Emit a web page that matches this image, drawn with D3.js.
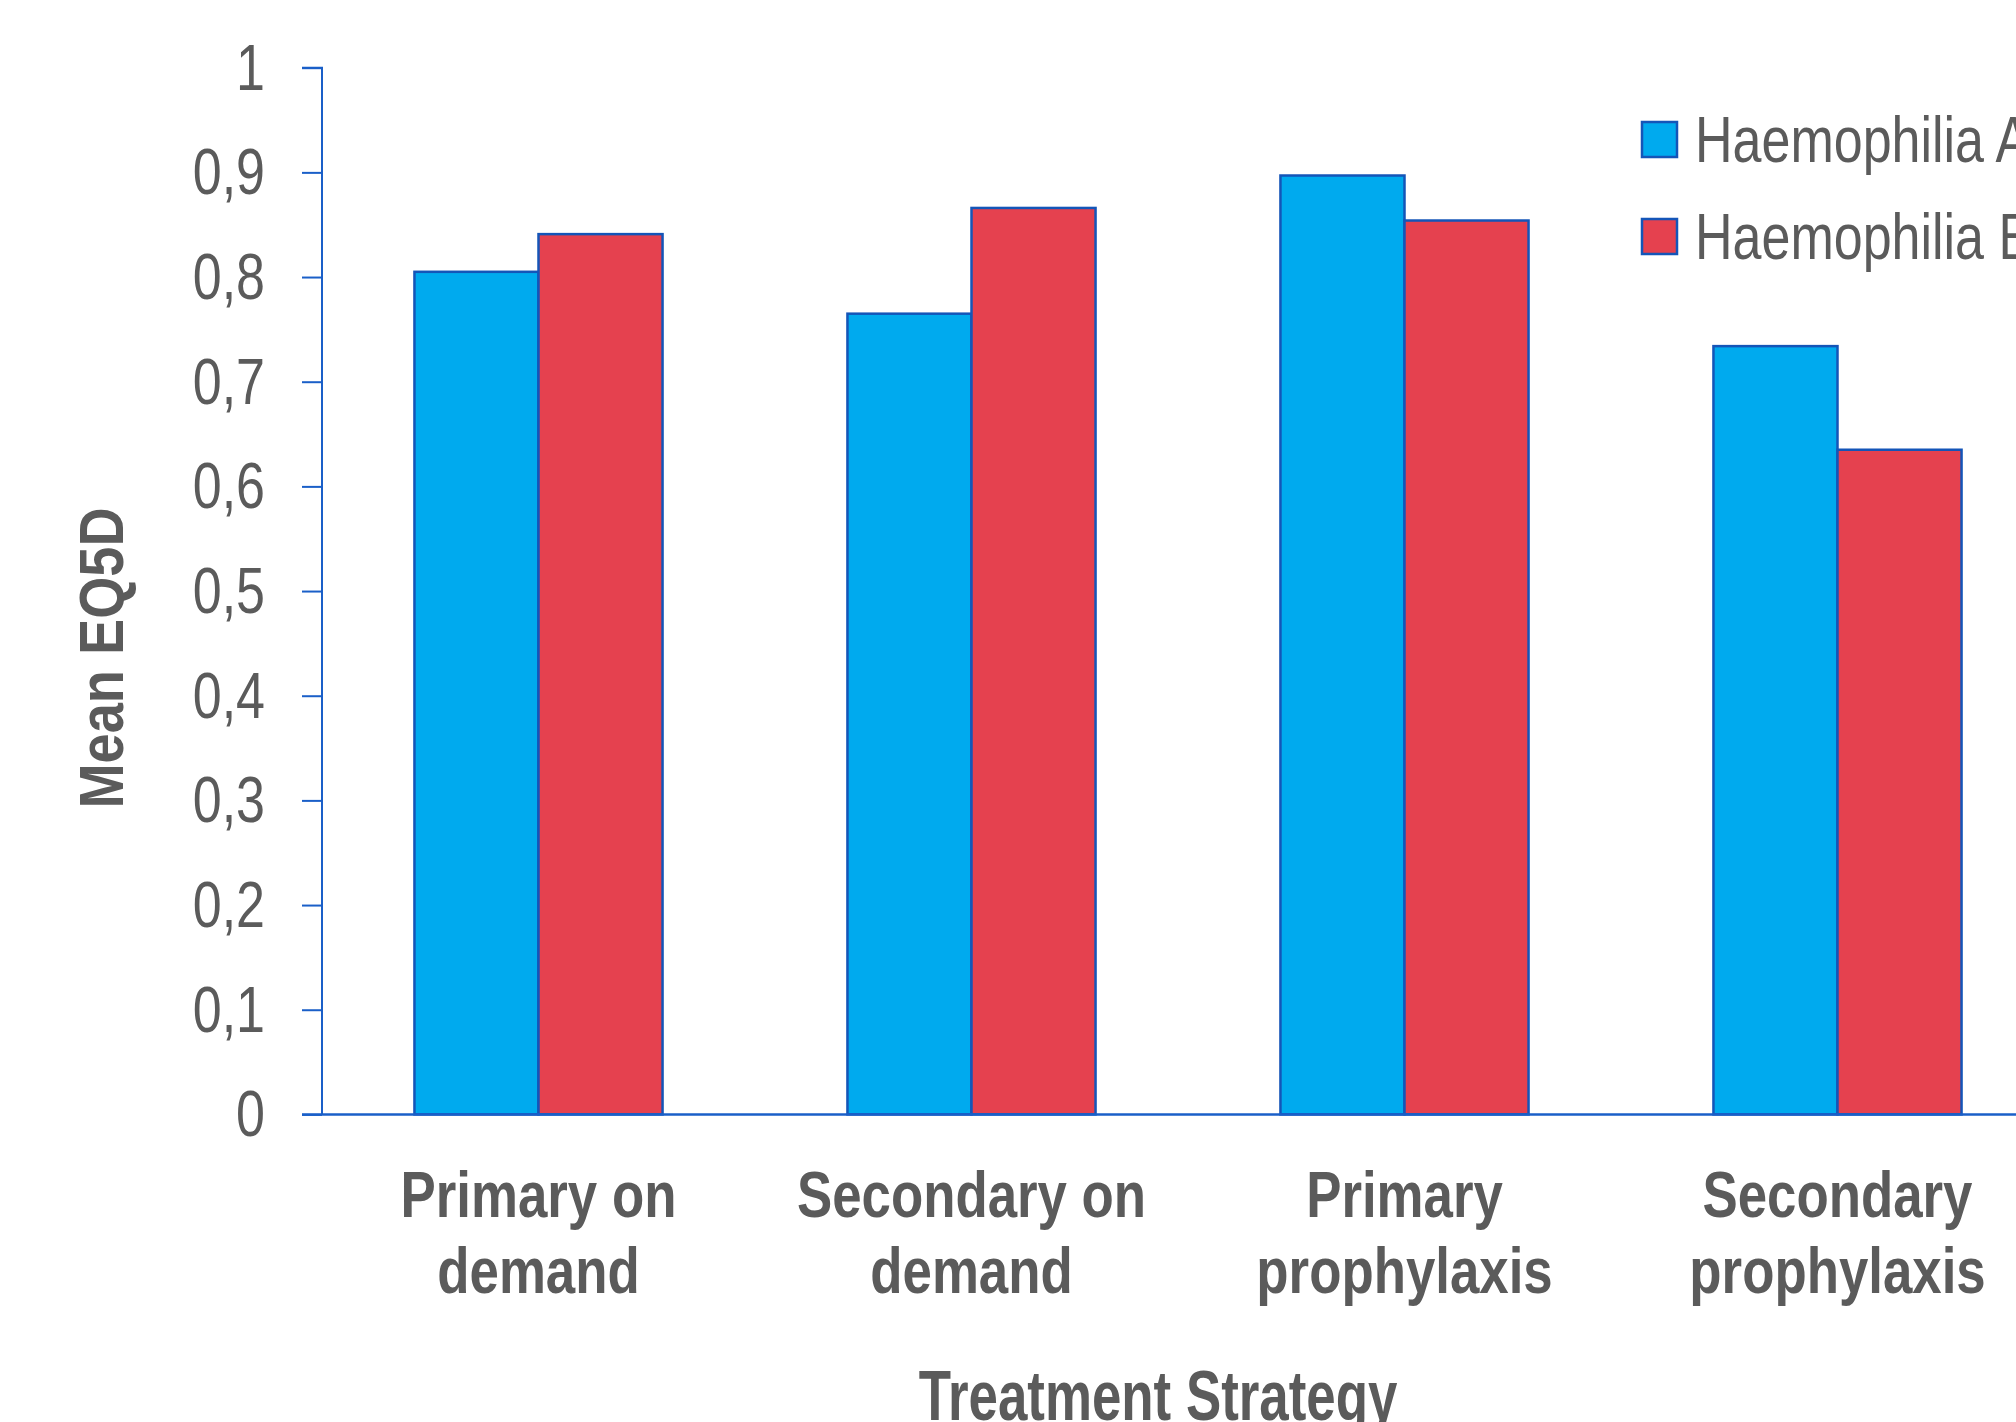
<!DOCTYPE html>
<html>
<head>
<meta charset="utf-8">
<script src="https://cdn.jsdelivr.net/npm/d3@7"></script>
<style>
  html, body { margin: 0; padding: 0; background: #fff; }
  svg { display: block; }
</style>
</head>
<body>
<svg id="chart" width="2016" height="1422"></svg>
<script>
// Mean EQ5D by treatment strategy, haemophilia A vs B
const categories = [
  ["Primary on", "demand"],
  ["Secondary on", "demand"],
  ["Primary", "prophylaxis"],
  ["Secondary", "prophylaxis"]
];
const seriesNames = ["Haemophilia A", "Haemophilia B"];
const haemophiliaA = [0.805, 0.765, 0.897, 0.734];
const haemophiliaB = [0.841, 0.866, 0.854, 0.635];
const yTicks = [0, 0.1, 0.2, 0.3, 0.4, 0.5, 0.6, 0.7, 0.8, 0.9, 1];
const yTickLabels = ["0", "0,1", "0,2", "0,3", "0,4", "0,5", "0,6", "0,7", "0,8", "0,9", "1"];

const colors = ["#00aaee", "#e5414f"];
const edge = "#1455b8";
const axisColor = "#1a5fc8";
const textColor = "#5b5b5b";
// condensed look: regular sans squeezed horizontally via transforms
const font = "'Liberation Sans', Arial, sans-serif";

const svg = d3.select("#chart");
const x0 = 322, x1 = 2054, yTop = 67.7, yBase = 1114.4;

const keys = categories.map(c => c.join(" "));
const x = d3.scaleBand().domain(keys).range([x0, x1]).paddingInner(0.427).paddingOuter(0.2135);
const xs = d3.scaleBand().domain(seriesNames).range([0, x.bandwidth()]);
const y = d3.scaleLinear().domain([0, 1]).range([yBase, yTop]);

// y axis
const yAxis = d3.axisLeft(y).tickValues(yTicks).tickSize(20).tickPadding(36)
  .tickFormat((d, i) => yTickLabels[i]);
const gy = svg.append("g").attr("transform", `translate(${x0},0)`).call(yAxis);
gy.select(".domain").attr("stroke", axisColor).attr("stroke-width", 2).attr("d", `M-20,${yTop}H0V${yBase}`);
gy.selectAll(".tick line").attr("stroke", axisColor).attr("stroke-width", 2);
gy.selectAll(".tick text")
  .attr("x", 0)
  .attr("transform", "translate(-57,0) scale(0.8,1)")
  .attr("fill", textColor).attr("font-family", font).attr("font-size", 65)
  .attr("dy", "0.33em");

// bars
const rows = categories.map((c, i) => ({ key: keys[i], values: [haemophiliaA[i], haemophiliaB[i]] }));
const groups = svg.append("g").selectAll("g").data(rows).join("g")
  .attr("transform", d => `translate(${x(d.key)},0)`);
groups.selectAll("rect").data(d => d.values.map((v, j) => ({ name: seriesNames[j], v, j })))
  .join("rect")
  .attr("x", d => xs(d.name))
  .attr("width", xs.bandwidth())
  .attr("y", d => y(d.v))
  .attr("height", d => yBase - y(d.v))
  .attr("fill", d => colors[d.j])
  .attr("stroke", edge)
  .attr("stroke-width", 2.5);

// baseline
svg.append("line")
  .attr("x1", x0 - 20).attr("x2", 2016)
  .attr("y1", yBase).attr("y2", yBase)
  .attr("stroke", axisColor).attr("stroke-width", 2.5);

// category labels (two lines each)
const labels = svg.append("g").selectAll("text").data(categories).join("text")
  .attr("transform", (d, i) => `translate(${x(keys[i]) + x.bandwidth() / 2},1217) scale(0.825,1)`)
  .attr("text-anchor", "middle")
  .attr("fill", textColor)
  .attr("font-family", font)
  .attr("font-weight", "bold")
  .attr("font-size", 64);
labels.selectAll("tspan").data(d => d).join("tspan")
  .attr("x", 0)
  .attr("dy", (d, i) => i === 0 ? 0 : 76)
  .text(d => d);

// axis titles
svg.append("text")
  .attr("transform", "translate(1158,1420) scale(0.755,1)")
  .attr("text-anchor", "middle")
  .attr("fill", textColor).attr("font-family", font)
  .attr("font-weight", "bold").attr("font-size", 70)
  .text("Treatment Strategy");

svg.append("text")
  .attr("transform", "translate(123,658) rotate(-90) scale(0.86,1)")
  .attr("text-anchor", "middle")
  .attr("fill", textColor).attr("font-family", font)
  .attr("font-weight", "bold").attr("font-size", 63)
  .text("Mean EQ5D");

// legend
const legend = svg.append("g").selectAll("g").data(seriesNames).join("g")
  .attr("transform", (d, i) => `translate(1642,${122 + i * 97})`);
legend.append("rect")
  .attr("width", 35).attr("height", 35)
  .attr("fill", (d, i) => colors[i])
  .attr("stroke", edge).attr("stroke-width", 2.5);
legend.append("text")
  .attr("transform", "translate(53,39.5) scale(0.8,1)")
  .attr("fill", textColor).attr("font-family", font)
  .attr("font-size", 65)
  .text(d => d);
</script>
</body>
</html>
